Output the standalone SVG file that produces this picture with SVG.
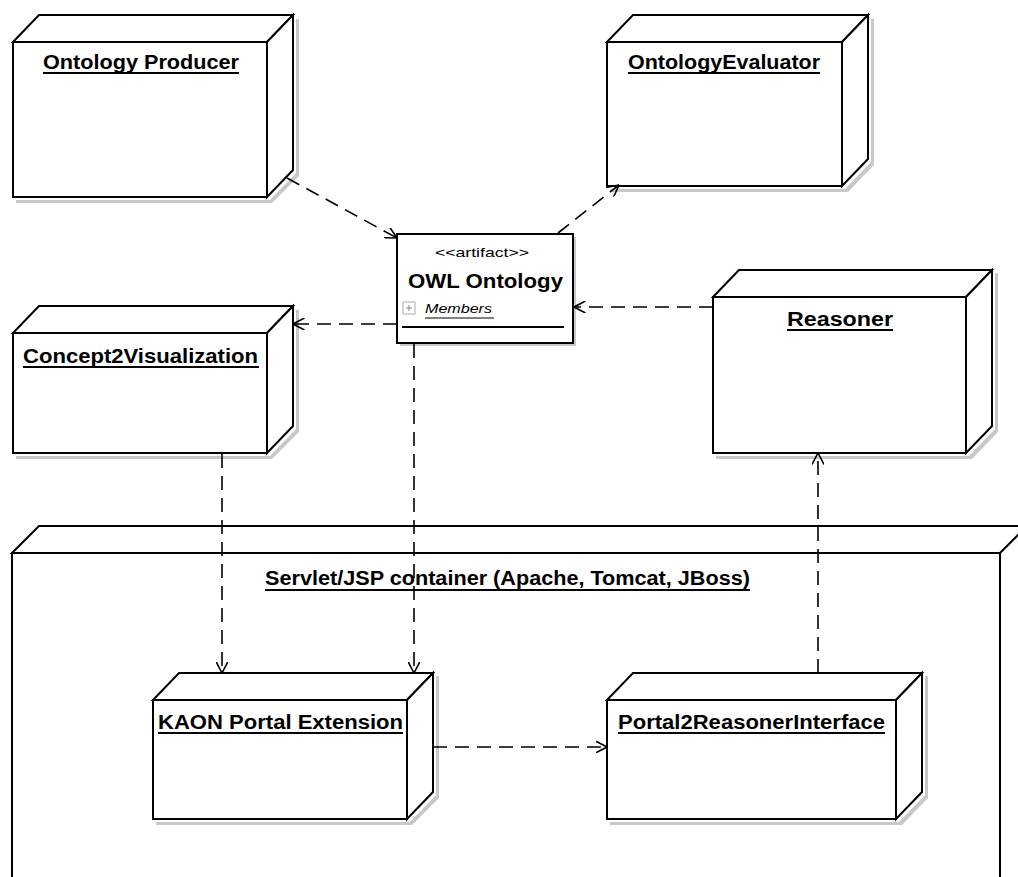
<svg xmlns="http://www.w3.org/2000/svg" width="1018" height="877" viewBox="0 0 1018 877">
<defs>
<style>
.face{fill:#fff;stroke:#000;stroke-width:2;stroke-linejoin:miter}
.shadow{fill:#c8c8c8}
.lbl{font-family:"Liberation Sans",Arial,sans-serif;font-weight:bold;font-size:20px;fill:#000}
.ul{stroke:#000;stroke-width:2}
.dep{fill:none;stroke:#000;stroke-width:1.6;stroke-dasharray:14 8;marker-end:url(#open)}
</style>
<marker id="open" viewBox="0 0 12 12" refX="11.5" refY="6" markerWidth="12" markerHeight="12" markerUnits="userSpaceOnUse" orient="auto">
<path d="M0,0 L11.5,6 L0,12" fill="none" stroke="#000" stroke-width="1.6"/>
</marker>
</defs>
<rect width="1018" height="877" fill="#fff"/>

<g id="container">
<path class="face" d="M12,553 L39,526 L1045,526 L1018,553 Z"/>
<path class="face" d="M1000,553 L1027,526 L1027,900 L1000,900 Z"/>
<rect class="face" x="12" y="553" width="988" height="340"/>
<text class="lbl" x="265" y="585" textLength="485" lengthAdjust="spacingAndGlyphs">Servlet/JSP container (Apache, Tomcat, JBoss)</text>
<line class="ul" x1="265" y1="590" x2="750" y2="590"/>
</g>

<g id="ontology-producer">
<path class="shadow" d="M16,200 L270,200 L296,173 L296,19 L299,19 L299,176 L272,203 L16,203 Z"/>
<path class="face" d="M13,42 L39,15 L293,15 L267,42 Z"/>
<path class="face" d="M267,42 L293,15 L293,170 L267,197 Z"/>
<rect class="face" x="13" y="42" width="254" height="155"/>
<text class="lbl" x="43" y="69" textLength="196" lengthAdjust="spacingAndGlyphs">Ontology Producer</text>
<line class="ul" x1="43" y1="73" x2="239" y2="73"/>
</g>

<g id="ontology-evaluator">
<path class="shadow" d="M610,189 L845,189 L871,162 L871,19 L874,19 L874,165 L848,192 L610,192 Z"/>
<path class="face" d="M607,42 L633,15 L868,15 L842,42 Z"/>
<path class="face" d="M842,42 L868,15 L868,159 L842,186 Z"/>
<rect class="face" x="607" y="42" width="235" height="144"/>
<text class="lbl" x="628" y="69" textLength="192" lengthAdjust="spacingAndGlyphs">OntologyEvaluator</text>
<line class="ul" x1="628" y1="73" x2="820" y2="73"/>
</g>

<g id="owl-ontology">
<rect class="shadow" x="400" y="237" width="176" height="109"/>
<rect class="face" x="397" y="234" width="176" height="109"/>
<text x="435" y="257" font-family="'Liberation Sans',Arial,sans-serif" font-size="13" textLength="94" lengthAdjust="spacingAndGlyphs">&lt;&lt;artifact&gt;&gt;</text>
<text x="408" y="288" font-family="'Liberation Sans',Arial,sans-serif" font-weight="bold" font-size="20" textLength="155" lengthAdjust="spacingAndGlyphs">OWL Ontology</text>
<rect x="403" y="302" width="12" height="12" fill="#fff" stroke="#aaa" stroke-width="1"/>
<line x1="406" y1="308" x2="412" y2="308" stroke="#888" stroke-width="1"/>
<line x1="409" y1="305" x2="409" y2="311" stroke="#888" stroke-width="1"/>
<text x="425" y="313" font-family="'Liberation Sans',Arial,sans-serif" font-style="italic" font-size="13" textLength="67" lengthAdjust="spacingAndGlyphs">Members</text>
<line x1="425" y1="318" x2="494" y2="318" stroke="#000" stroke-width="1"/>
<line x1="402" y1="327" x2="564" y2="327" stroke="#000" stroke-width="2"/>
</g>

<g id="concept2visualization">
<path class="shadow" d="M16,456 L270,456 L296,429 L296,310 L299,310 L299,432 L272,459 L16,459 Z"/>
<path class="face" d="M13,333 L39,306 L293,306 L267,333 Z"/>
<path class="face" d="M267,333 L293,306 L293,426 L267,453 Z"/>
<rect class="face" x="13" y="333" width="254" height="120"/>
<text class="lbl" x="23" y="363" textLength="235" lengthAdjust="spacingAndGlyphs">Concept2Visualization</text>
<line class="ul" x1="23" y1="367" x2="259" y2="367"/>
</g>

<g id="reasoner">
<path class="shadow" d="M716,456 L969,456 L995,429 L995,273 L998,273 L998,432 L972,459 L716,459 Z"/>
<path class="face" d="M713,297 L739,270 L992,270 L966,297 Z"/>
<path class="face" d="M966,297 L992,270 L992,426 L966,453 Z"/>
<rect class="face" x="713" y="297" width="253" height="156"/>
<text class="lbl" x="787" y="326" textLength="106" lengthAdjust="spacingAndGlyphs">Reasoner</text>
<line class="ul" x1="787" y1="330" x2="893" y2="330"/>
</g>

<g id="kaon-portal-extension">
<path class="shadow" d="M156,822 L410,822 L436,795 L436,676 L439,676 L439,798 L412,825 L156,825 Z"/>
<path class="face" d="M153,700 L179,673 L433,673 L407,700 Z"/>
<path class="face" d="M407,700 L433,673 L433,792 L407,819 Z"/>
<rect class="face" x="153" y="700" width="254" height="119"/>
<text class="lbl" x="158" y="729" textLength="245" lengthAdjust="spacingAndGlyphs">KAON Portal Extension</text>
<line class="ul" x1="158" y1="733" x2="403" y2="733"/>
</g>

<g id="portal2reasonerinterface">
<path class="shadow" d="M610,822 L899,822 L925,795 L925,676 L928,676 L928,798 L902,825 L610,825 Z"/>
<path class="face" d="M607,700 L633,673 L922,673 L896,700 Z"/>
<path class="face" d="M896,700 L922,673 L922,792 L896,819 Z"/>
<rect class="face" x="607" y="700" width="289" height="119"/>
<text class="lbl" x="618" y="729" textLength="267" lengthAdjust="spacingAndGlyphs">Portal2ReasonerInterface</text>
<line class="ul" x1="618" y1="733" x2="885" y2="733"/>
</g>

<g id="connectors">
<line class="dep" x1="287" y1="178" x2="397" y2="238"/>
<line class="dep" x1="558" y1="233" x2="619" y2="185"/>
<line class="dep" x1="713" y1="307" x2="574" y2="307"/>
<line class="dep" x1="397" y1="324" x2="293" y2="324"/>
<line class="dep" x1="414" y1="344" x2="414" y2="673"/>
<line class="dep" x1="222" y1="454" x2="222" y2="673"/>
<line class="dep" x1="433" y1="747" x2="607" y2="747"/>
<line class="dep" x1="818" y1="673" x2="818" y2="453"/>
</g>
</svg>
